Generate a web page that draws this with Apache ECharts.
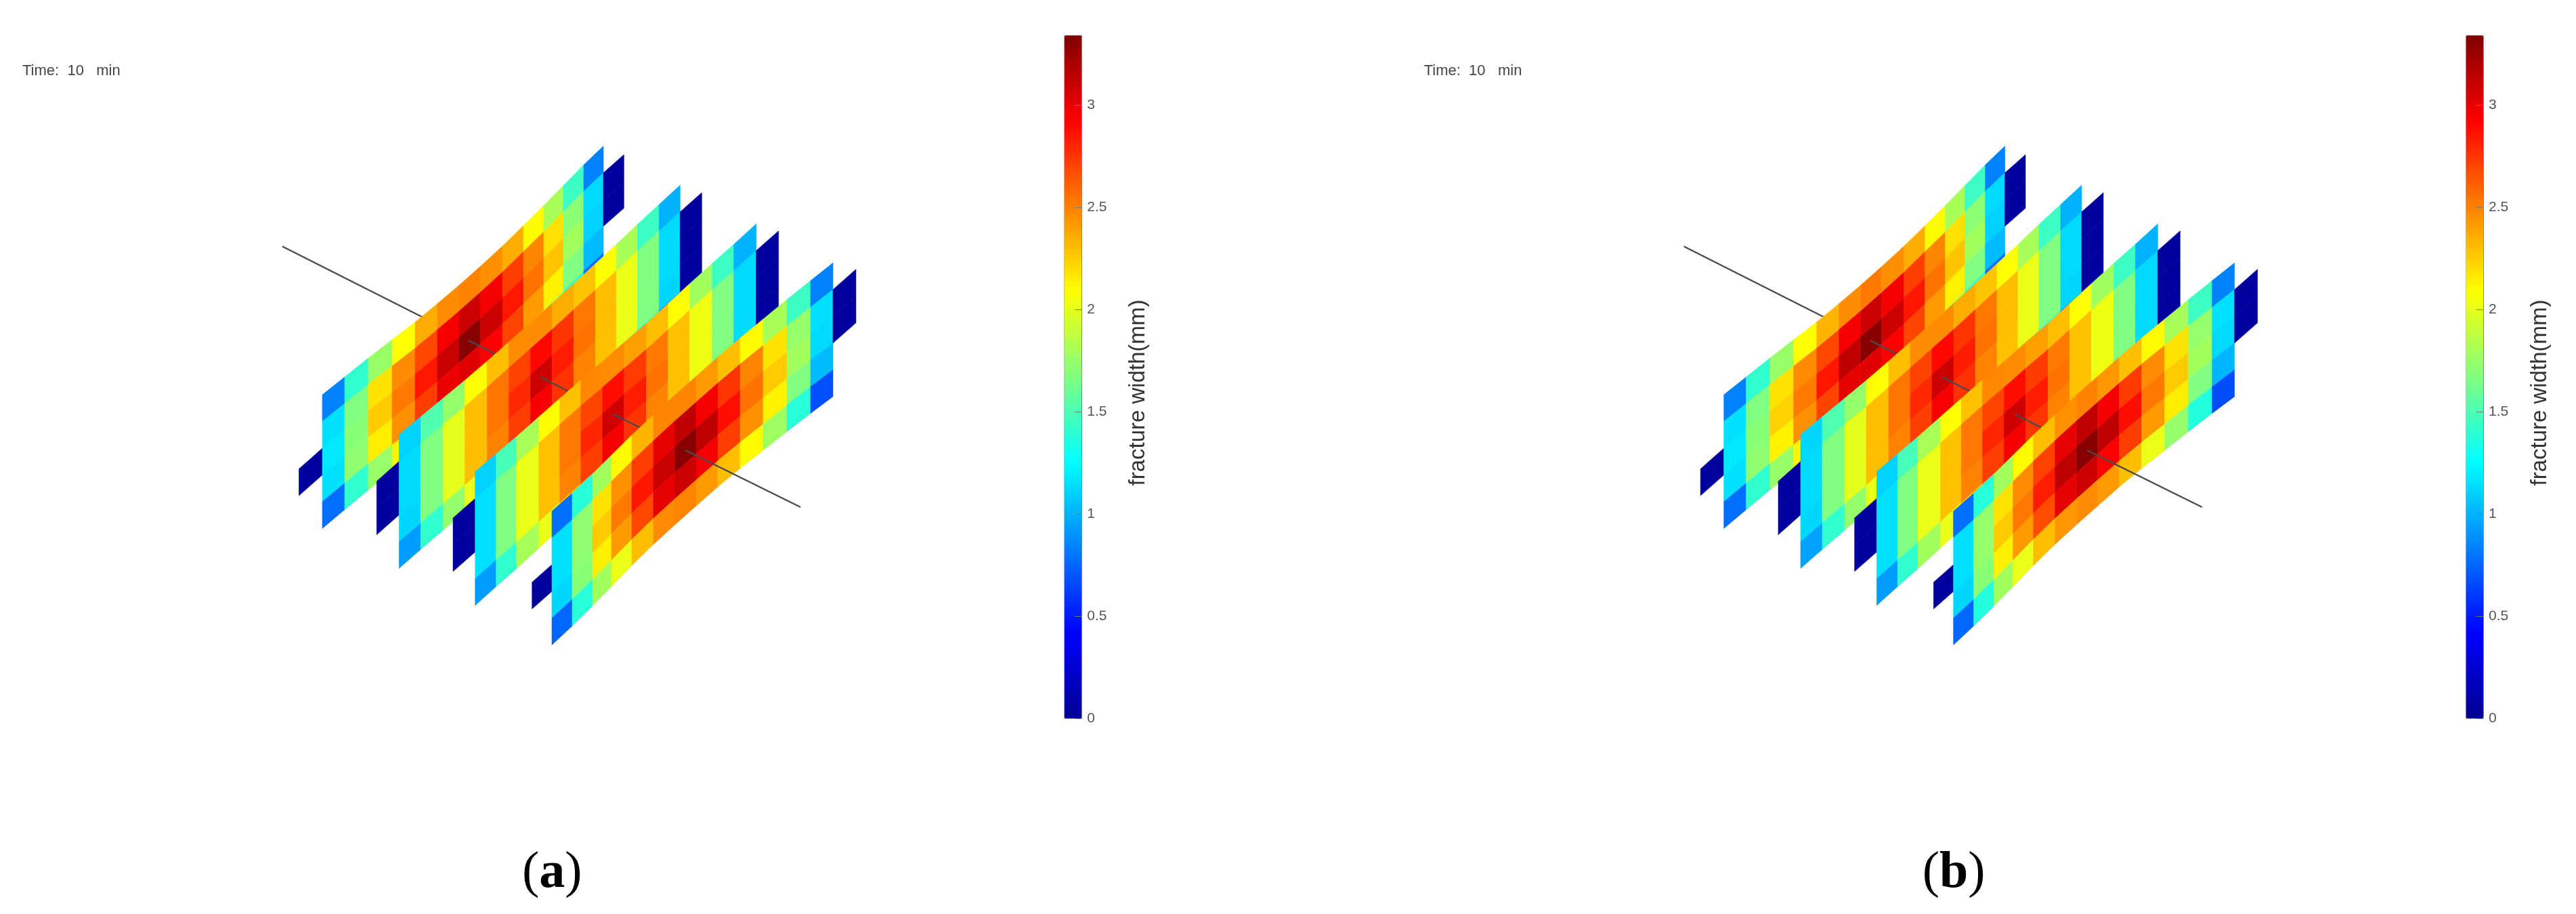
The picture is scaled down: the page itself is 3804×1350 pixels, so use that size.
<!DOCTYPE html>
<html>
<head>
<meta charset="utf-8">
<style>html,body{margin:0;padding:0;background:#fff}#chart{width:3804px;height:1350px}</style>
<script src="https://cdn.jsdelivr.net/npm/echarts@6/dist/echarts.min.js"></script>
</head>
<body>
<div id="chart"></div>
<script>
// Fracture width (mm) per mesh cell: [column][row]; null = no cell.
const panelA1 = [[null,null,.05,null,null],[.84,1.15,1.18,1.15,.775],[1.41,1.67,1.70,1.72,1.41],[1.75,2.18,2.26,2.15,1.75],[2.08,2.47,2.52,2.45,2.12],[2.36,2.69,2.85,2.72,2.33],[2.47,2.96,3.10,2.98,2.47],[2.50,3.09,3.32,3.02,2.5],[2.46,2.96,3.09,2.93,2.42],[2.36,2.72,2.85,2.70,2.33],[2.10,2.49,2.55,2.42,2.1],[1.80,2.19,2.28,2.13,1.78],[1.45,1.71,1.78,1.67,1.41],[.84,1.13,1.10,1.03,.78],[null,.05,.05,null,null]];
const panelA2 = [[null,.05,.05,null,null],[1.10,1.13,1.13,1.12,.93],[1.52,1.67,1.67,1.67,1.41],[1.74,2.0,2.0,2.0,1.74],[2.08,2.3,2.3,2.3,2.02],[2.3,2.54,2.54,2.5,2.3],[2.47,2.71,2.79,2.72,2.45],[2.47,2.9,3.09,2.95,2.45],[2.36,2.75,2.83,2.76,2.35],[2.28,2.53,2.55,2.5,2.28],[2.09,2.3,2.3,2.29,2.08],[1.8,2.02,2.02,2.02,1.8],[1.45,1.67,1.67,1.67,1.42],[1.0,1.13,1.13,1.12,.9],[null,.05,.05,.05,null]];
const panelA3 = [[null,.05,.05,null,null],[1.1,1.15,1.15,1.15,.93],[1.48,1.67,1.67,1.67,1.41],[1.8,2.02,2.02,2.02,1.8],[2.08,2.29,2.29,2.29,2.02],[2.29,2.53,2.53,2.5,2.3],[2.48,2.7,2.8,2.72,2.45],[2.47,2.88,3.08,2.96,2.45],[2.4,2.73,2.83,2.75,2.38],[2.3,2.52,2.55,2.5,2.28],[2.08,2.29,2.29,2.29,2.08],[1.78,2.03,2.03,2.03,1.78],[1.45,1.67,1.67,1.67,1.42],[1.0,1.13,1.13,1.13,.9],[null,.05,.05,.05,null]];
const panelA4 = [[null,null,.05,null,null],[.78,1.15,1.15,1.12,.75],[1.38,1.72,1.72,1.7,1.38],[1.78,2.18,2.26,2.14,1.78],[2.1,2.45,2.52,2.42,2.02],[2.33,2.72,2.85,2.69,2.3],[2.49,3.0,3.1,3.0,2.47],[2.49,3.13,3.32,3.09,2.49],[2.42,2.96,3.13,2.96,2.42],[2.3,2.75,2.88,2.72,2.3],[2.1,2.49,2.55,2.45,2.1],[1.8,2.18,2.26,2.13,1.77],[1.45,1.74,1.78,1.67,1.38],[.84,1.15,1.13,1.03,.68],[null,.05,.05,null,null]];
const panelB1 = [[null,null,.05,null,null],[.84,1.15,1.18,1.15,.775],[1.41,1.67,1.70,1.72,1.41],[1.75,2.18,2.24,2.13,1.75],[2.08,2.47,2.52,2.45,2.12],[2.33,2.69,2.85,2.70,2.33],[2.47,2.96,3.13,3.0,2.47],[2.52,3.09,3.32,3.02,2.5],[2.46,2.96,3.09,2.93,2.42],[2.36,2.72,2.85,2.70,2.33],[2.10,2.49,2.55,2.42,2.1],[1.80,2.19,2.28,2.13,1.78],[1.45,1.71,1.78,1.67,1.41],[.84,1.13,1.10,1.03,.78],[null,.05,.05,null,null]];
const panelB2 = [[null,.05,.05,null,null],[1.12,1.13,1.13,1.12,.95],[1.52,1.67,1.67,1.67,1.41],[1.74,2.0,2.0,2.0,1.74],[2.08,2.3,2.3,2.3,2.02],[2.3,2.54,2.54,2.5,2.3],[2.47,2.71,2.79,2.72,2.45],[2.47,2.9,3.09,2.95,2.45],[2.36,2.75,2.83,2.76,2.35],[2.28,2.53,2.55,2.5,2.28],[2.09,2.3,2.3,2.29,2.08],[1.8,2.02,2.02,2.02,1.8],[1.45,1.67,1.67,1.67,1.42],[1.0,1.13,1.13,1.12,.9],[null,.05,.05,.05,null]];
const panelB3 = [[null,.05,.05,null,null],[1.1,1.15,1.15,1.15,.93],[1.48,1.67,1.67,1.67,1.41],[1.8,2.02,2.02,2.02,1.78],[2.08,2.29,2.29,2.29,2.02],[2.29,2.53,2.53,2.5,2.3],[2.48,2.7,2.8,2.72,2.45],[2.47,2.88,3.08,2.96,2.45],[2.4,2.73,2.83,2.75,2.38],[2.3,2.52,2.55,2.5,2.28],[2.08,2.29,2.29,2.29,2.08],[1.78,2.03,2.03,2.03,1.78],[1.45,1.67,1.67,1.67,1.42],[1.0,1.13,1.13,1.13,.9],[null,.05,.05,.05,null]];
const panelB4 = [[null,null,.05,null,null],[.78,1.15,1.15,1.12,.75],[1.38,1.74,1.74,1.7,1.36],[1.78,2.18,2.26,2.14,1.78],[2.1,2.47,2.53,2.42,2.02],[2.3,2.71,2.83,2.67,2.3],[2.45,3.0,3.13,3.0,2.43],[2.5,3.13,3.32,3.09,2.47],[2.43,2.96,3.13,2.93,2.42],[2.3,2.73,2.88,2.72,2.3],[2.1,2.47,2.53,2.42,2.02],[1.8,2.18,2.26,2.15,1.74],[1.45,1.74,1.78,1.67,1.36],[.84,1.15,1.13,1.01,.67],[null,.05,.05,null,null]];

const colorbarTicks = [0, 0.5, 1, 1.5, 2, 2.5, 3];
const widthMax = 3.34;
const panelNames = ['a', 'b'];
const jet = ['#00008f','#0000ff','#0080ff','#00ffff','#80ff80','#ffff00','#ff8000','#ff0000','#800000'];

// Layout of the four fracture planes (scene units, shared by both panels).
const planeEdges = [
  [-34.5,0,33,68,103,137,170,202,233,266,297,327,356,386,415,445.3],
  [-33,0,32,65,97,130,162,194,226,258,290,321,352,384,415,447],
  [-32.7,0,31,61,94,125,156,188,220,253,285,317,350,382,415,448],
  [-29.3,0,30,60,88,118,150,182,213,245,278,312,347,382,415,449]
];
// The meshes are slightly bowed on screen: vertical shift of each column edge.
const planeBow = [
  [0,0,3,6,10,14,16,17,17,16,13,10,6,2,0,0],
  [0,0,2,4,6,7,7,7,7,6,5,4,2,1,0,0],
  [0,0,1,2,2,2,2,3,3,4,3,2,1,1,0,0],
  [0,0,0,-2,-5,-8,-10,-11,-11,-11,-10,-8,-6,-3,0,0]
];
const rowHeightAtEdge = [39.5,39.5,39.2,39,38.8,38.5,38.3,38.3,38.3,38.3,38.5,38.8,39,39.2,39.5,39.5];
const planeOrigin = [[476,583],[589.3,642],[701.7,696.7],[815,755]];
const planeSlope = [0.885,0.888,0.882,0.8836];
const wellbore = [[417,364],[692,502.7],[798.3,557],[905.3,611.7],[1012,665],[1182,749]];
const panelOffset = 2069.7;

const panelPlanes = [[panelA1,panelA2,panelA3,panelA4],[panelB1,panelB2,panelB3,panelB4]];

function cellData(plane, p) {
  const out = [];
  plane.forEach((col, c) => col.forEach((v, r) => { if (v !== null) out.push([p, c, r, v]); }));
  return out;
}
function renderCell(params, api) {
  const p = api.value(0), c = api.value(1), r = api.value(2);
  const e = planeEdges[p], o = planeOrigin[p], s = planeSlope[p], b = planeBow[p];
  const pt = (u, v) => api.coord([o[0] + e[u], o[1] - s * e[u] + b[u] + rowHeightAtEdge[u] * v]);
  const color = api.visual('color');
  return { type: 'polygon', shape: { points: [pt(c, r), pt(c + 1, r), pt(c + 1, r + 1), pt(c, r + 1)] },
           style: { fill: color, stroke: color, lineWidth: 0.6 }, silent: true };
}

const grid = [], xAxis = [], yAxis = [], series = [], visualMap = [], title = [], graphic = [];
const cellSeries = [[], []];
panelNames.forEach((name, k) => {
  const dx = k * panelOffset;
  grid.push({ left: dx, top: 0, width: 1400, height: 1350 });
  xAxis.push({ type: 'value', gridIndex: k, min: 0, max: 1400, show: false });
  yAxis.push({ type: 'value', gridIndex: k, min: 0, max: 1350, inverse: true, show: false });
  wellbore.slice(1).forEach((end, i) => {
    series.push({ type: 'line', xAxisIndex: k, yAxisIndex: k, z: 10 + 2 * i, silent: true, showSymbol: false, symbol: 'none',
      lineStyle: { color: '#4a4a4a', width: 2.4 }, data: [wellbore[i], end], animation: false });
    if (i < 4) {
      cellSeries[k].push(series.length);
      series.push({ type: 'custom', coordinateSystem: 'cartesian2d', xAxisIndex: k, yAxisIndex: k, z: 11 + 2 * i, silent: true,
        renderItem: renderCell, data: cellData(panelPlanes[k][i], i), encode: { x: 1, y: 2 }, animation: false });
    }
  });
});
panelNames.forEach((name, k) => {
  const dx = k * panelOffset;
  const g = grid.length;
  grid.push({ left: 1571.7 + dx, top: 52.3, width: 25.6, height: 1009, show: true, borderColor: '#a8a8a8', borderWidth: 1, backgroundColor: 'transparent' });
  xAxis.push({ type: 'value', gridIndex: g, min: 0, max: 1, show: false });
  yAxis.push({ type: 'value', gridIndex: g, position: 'right', min: 0, max: widthMax, z: 10,
    splitLine: { show: false },
    axisLine: { show: true, onZero: false, lineStyle: { color: '#8a8a8a', width: 1 } },
    axisTick: { show: true, inside: true, length: 10, customValues: colorbarTicks, lineStyle: { color: '#777', width: 1 } },
    axisLabel: { show: true, margin: 8, customValues: colorbarTicks, color: '#555', fontSize: 21, fontFamily: 'Liberation Sans', formatter: v => String(v) } });
  visualMap.push({ type: 'continuous', seriesIndex: cellSeries[k], dimension: 3, min: 0, max: widthMax, left: 1571.7 + dx, top: 52.3,
    itemWidth: 25.6, itemHeight: 1009, padding: 0, calculable: false, hoverLink: false, text: null, showLabel: false, inRange: { color: jet } });
  title.push({ text: 'Time:  10   min', left: 33 + dx, top: 94, padding: 0, textStyle: { color: '#444', fontSize: 22, fontWeight: 'normal', fontFamily: 'Liberation Sans' } });
  title.push({ text: '{r|(}{b|' + name + '}{r|)}', left: 771 + dx - (k ? 2 : 0), top: 1252, padding: 0,
    textStyle: { rich: {
      r: { fontFamily: 'Liberation Serif', fontSize: 76, color: '#000', fontWeight: 'normal' },
      b: { fontFamily: 'Liberation Serif', fontSize: 76, color: '#000', fontWeight: 'bold' } } } });
  graphic.push({ type: 'text', x: 1681 + dx, y: 580, rotation: Math.PI / 2, silent: true,
    style: { text: 'fracture width(mm)', fill: '#333', font: '33px "Liberation Sans"', align: 'center', verticalAlign: 'middle' } });
});

const chart = echarts.init(document.getElementById('chart'), null, { renderer: 'canvas' });
chart.setOption({ animation: false, backgroundColor: '#fff', title, grid, xAxis, yAxis, visualMap, series, graphic });
</script>
</body>
</html>
